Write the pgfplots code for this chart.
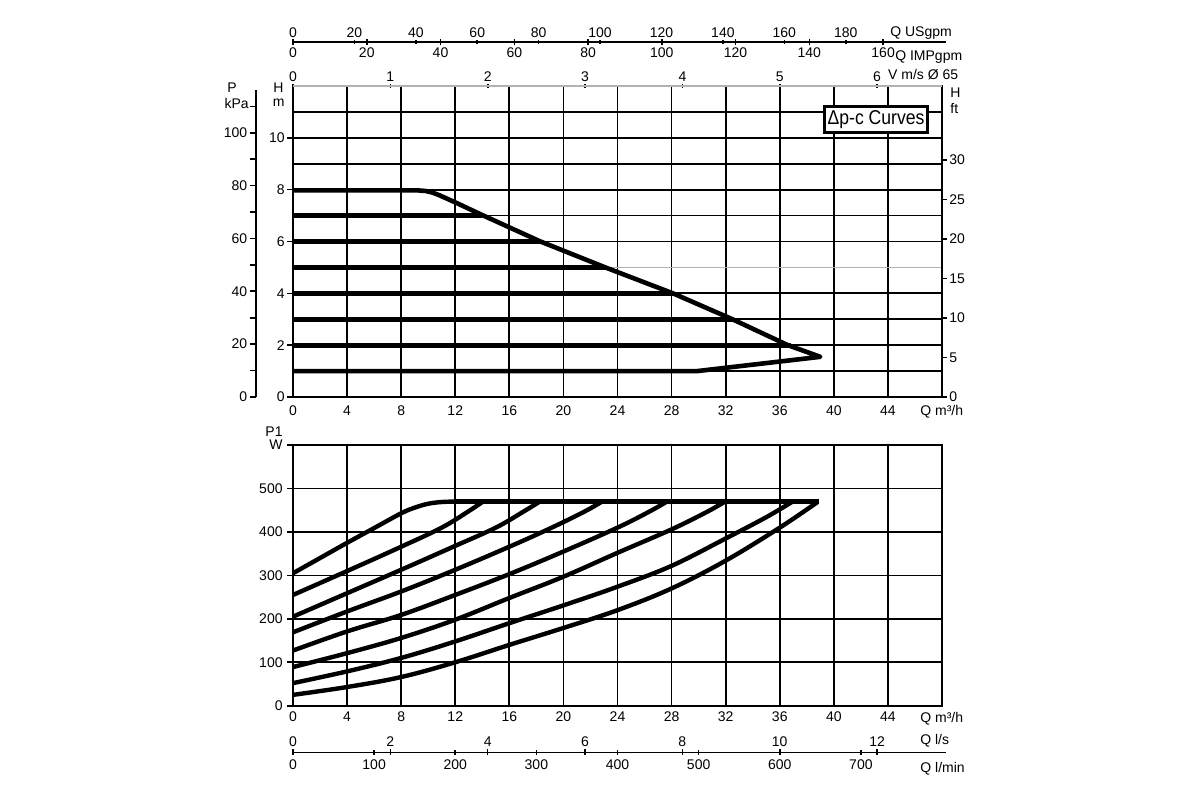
\documentclass[border=0pt]{standalone}
\usepackage{fontspec}
\setmainfont{Liberation Sans}
\newfontfamily\boxfont[FakeStretch=0.88]{Liberation Sans}
\usepackage{pgfplots}
\pgfplotsset{compat=1.18}
\begin{document}
\begin{tikzpicture}[font=\fontsize{7}{8}\selectfont]
\fill[white] (0,0) rectangle (600pt,400pt);
\path[use as bounding box] (0,0) rectangle (600pt,400pt);
\pgfplotsset{
  every axis/.append style={
    scale only axis, clip=false, scaled ticks=false,
    /pgf/number format/assume math mode=true,
    tick label style={font=\fontsize{7}{8}\selectfont, inner sep=1pt},
    tick style={black, line width=0.8pt},
  },
  noarrow/.style={
    axis line style={-},
    every outer x axis line/.append style={-},
    every outer y axis line/.append style={-},
    every inner x axis line/.append style={-},
    every inner y axis line/.append style={-},
  },
  scaleax/.style={
    width=326.5pt, height=1pt, ymin=0, ymax=1,
    axis y line=none, noarrow, axis line style={line width=0.8pt},
    xtick align=outside, major tick length=2.5pt,
    ytick=\empty, minor tick num=0,
  },
  pcurve/.style={black, line width=2.2pt, smooth, tension=0.6, line join=round},
}
% ---------------- upper chart: H (m) vs Q (m3/h)
\begin{axis}[
  at={(146.5pt,201.5pt)}, anchor=origin,
  width=324.5pt, height=155.5pt,
  xmin=0, xmax=48, ymin=0, ymax=12,
  axis line style={line width=0.9pt},
  xtick={0,4,...,48},
  xticklabels={0,4,8,12,16,20,24,28,32,36,40,44,{}},
  xtick pos=bottom, xtick align=inside,
  ytick={0,2,...,10}, minor ytick={1,3,...,11},
  ytick pos=left, ytick align=outside,
  major tick length=3pt, minor tick length=0pt,
  grid=both,
  major grid style={black, line width=0.9pt},
  minor grid style={black, line width=0.9pt},
  xticklabel style={yshift=-3pt},
]
\addplot[gray!60, line width=0.9pt] coordinates {(23.6,5)(48,5)};
\addplot[gray!60, line width=0.9pt] coordinates {(0,12)(48,12)};
\addplot[black, line width=2.3pt, line join=round] coordinates {
 (0,7.97)(9.3,7.97)(9.8,7.95)(10.3,7.89)(10.8,7.79)(11.4,7.65)(12,7.51)
 (14,7.02)(18.3,6.0)(23.1,5.0)(28.1,4.0)(32.5,3.0)(36.6,2.0)(39,1.55)
 (29.9,1.0)(0,1.0)};
\addplot[black, line width=2.5pt] coordinates {(0,7)(14.0,7)};
\addplot[black, line width=2.5pt] coordinates {(0,6)(18.3,6)};
\addplot[black, line width=2.5pt] coordinates {(0,5)(23.1,5)};
\addplot[black, line width=2.5pt] coordinates {(0,4)(28.1,4)};
\addplot[black, line width=2.5pt] coordinates {(0,3)(32.5,3)};
\addplot[black, line width=2.5pt] coordinates {(0,2)(36.8,2)};
\node[anchor=east, inner sep=0pt] at (axis cs:0,11.92) [xshift=-4.5pt] {H};
\node[anchor=east, inner sep=0pt] at (axis cs:0,11.34) [xshift=-4pt] {m};
\node[inner sep=0pt] at (axis cs:-4.51,11.92) {P};
\node[anchor=east, inner sep=0pt] at (axis cs:-3.25,11.34) {kPa};
\node[anchor=west, inner sep=0pt] at (axis cs:48.59,11.73) {H};
\node[anchor=west, inner sep=0pt] at (axis cs:48.59,11.15) {ft};
\node[anchor=north west, inner sep=0pt] at (axis cs:46.37,0) [yshift=-4pt] {Q m³/h};
\node[draw=black, line width=1.5pt, inner xsep=1.5pt, inner ysep=2pt, fill=white,
      font=\boxfont\fontsize{10}{12}\selectfont] at (axis cs:43.12,10.71) {Δp-c Curves};
\end{axis}
% P kPa scale
\begin{axis}[
  at={(127.8pt,201.5pt)}, anchor=origin, width=1pt, height=153.5pt,
  xmin=0, xmax=1, ymin=0, ymax=116.17,
  axis x line=none, axis y line=left, noarrow, axis line style={line width=0.9pt},
  xtick=\empty, ytick={0,20,...,100}, minor ytick={10,30,...,110},
  ytick align=outside, major tick length=3pt, minor tick length=3pt,
]
\end{axis}
% H ft scale
\begin{axis}[
  at={(470pt,201.5pt)}, anchor=origin, width=1pt, height=155.5pt,
  xmin=0, xmax=1, ymin=0, ymax=39.37,
  axis x line=none, axis y line=right, noarrow, axis line style={line width=0.9pt},
  xtick=\empty, ytick={0,5,...,30},
  ytick align=outside, major tick length=2.5pt,
]
\end{axis}
% V m/s scale (top border)
\begin{axis}[scaleax, width=324.5pt, at={(146.5pt,356pt)}, anchor=origin,
  axis x line=top, noarrow, axis line style={gray!60, line width=0.9pt},
  xmin=0, xmax=6.6667, xtick={0,1,...,6}, major tick length=2pt]
\node[anchor=base west, inner sep=0pt] at (axis cs:6.11,1) [yshift=3.2pt] {V m/s Ø 65};
\end{axis}
% USgpm scale
\begin{axis}[scaleax, at={(146.5pt,377.85pt)}, anchor=origin,
  axis x line=top, noarrow,
  xmin=0, xmax=212.65, xtick={0,20,...,180}, major tick length=2pt]
\node[anchor=base west, inner sep=0pt] at (axis cs:194.4,1) [yshift=3pt] {Q USgpm};
\end{axis}
% IMPgpm scale
\begin{axis}[scaleax, at={(146.5pt,378.85pt)}, anchor=origin,
  axis x line=bottom, noarrow,
  xmin=0, xmax=177.05, xtick={0,20,...,160}, major tick length=3pt]
\node[anchor=north west, inner sep=0pt] at (axis cs:163.2,0) [yshift=-4pt] {Q IMPgpm};
\end{axis}
% ---------------- lower chart: P1 (W) vs Q (m3/h)
\begin{axis}[
  at={(146.5pt,47.15pt)}, anchor=origin,
  width=324.5pt, height=130.3pt,
  xmin=0, xmax=48, ymin=0, ymax=600,
  axis line style={line width=0.9pt},
  xtick={0,4,...,48},
  xticklabels={0,4,8,12,16,20,24,28,32,36,40,44,{}},
  xtick pos=bottom, xtick align=inside,
  ytick={0,100,...,600}, yticklabels={0,100,200,300,400,500,W},
  ytick pos=left, ytick align=outside, major tick length=3pt,
  grid=major, major grid style={black, line width=0.9pt},
  xticklabel style={yshift=-2pt}, yticklabel style={xshift=-1pt},
]
\addplot[pcurve] coordinates {
 (0,305)(2,340)(4,375)(6,409)(8,443)(9,456)(10,465)(11,469)(12,470)};
\addplot[black, line width=2.2pt] coordinates {(11.9,470)(38.9,470)};
\addplot[pcurve] coordinates {
 (0,255)(4,310)(8,366)(11,410)(13,448)(14,469)};
\addplot[pcurve] coordinates {
 (0,205)(4,259)(8,313)(12,368)(15,410)(17,446)(18.2,469)};
\addplot[pcurve] coordinates {
 (0,169)(4,217)(8,263)(12,313)(16,366)(19,408)(21.5,446)(22.8,469)};
\addplot[pcurve] coordinates {
 (0,127)(4,171)(8,209)(12,255)(16,303)(20,355)(24,410)(26.3,446)(27.6,469)};
\addplot[pcurve] coordinates {
 (0,89)(4,121)(8,156)(12,198)(16,248)(20,297)(24,352)(28,406)(30.6,446)(31.9,469)};
\addplot[pcurve] coordinates {
 (0,52)(4,79)(8,110)(12,148)(16,190)(20,231)(24,274)(28,322)(32,385)(35,434)(36.9,469)};
\addplot[pcurve] coordinates {
 (0,25)(4,43)(8,66)(12,100)(16,140)(20,179)(24,220)(28,270)(32,334)(36,410)(38.8,469)};
\node[anchor=east, inner sep=0pt] at (axis cs:0,631) [xshift=-5pt] {P1};
\node[anchor=north west, inner sep=0pt] at (axis cs:46.37,0) [yshift=-3pt] {Q m³/h};
\end{axis}
% l/s scale
\begin{axis}[scaleax, at={(146.5pt,22.85pt)}, anchor=origin,
  axis x line=top, noarrow,
  xmin=0, xmax=13.416, xtick={0,2,...,12}, major tick length=3pt]
\node[anchor=base west, inner sep=0pt] at (axis cs:12.88,1) [yshift=4pt] {Q l/s};
\end{axis}
% l/min scale
\begin{axis}[scaleax, at={(146.5pt,23.85pt)}, anchor=origin,
  axis x line=bottom, noarrow,
  xmin=0, xmax=804.9, xtick={0,100,...,700}, major tick length=2.5pt,
  xticklabel style={yshift=-1.5pt}]
\node[anchor=north west, inner sep=0pt] at (axis cs:772.9,0) [yshift=-5pt] {Q l/min};
\end{axis}
\end{tikzpicture}
\end{document}
